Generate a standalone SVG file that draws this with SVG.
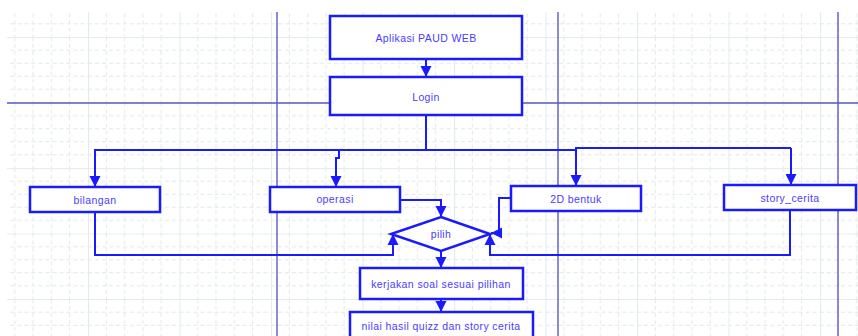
<svg xmlns="http://www.w3.org/2000/svg" width="858" height="336" viewBox="0 0 858 336">
<style>
.box{fill:#ffffff;stroke:#1a1aff;stroke-width:2.5}
.lbl{font-family:"Liberation Sans",Arial,sans-serif;font-size:10.5px;fill:#4a3cff;text-anchor:middle;dominant-baseline:central;letter-spacing:0.4px}
.con{fill:none;stroke:#1a1aff;stroke-width:2}
.lane{stroke:#5a5ac8;stroke-width:1.4;fill:none}
.minor{stroke:#e0e8e8;stroke-width:1;stroke-dasharray:4 3}
.major{stroke:#e2ecec;stroke-width:1.2}
</style>
<defs>
<pattern id="grid" patternUnits="userSpaceOnUse" x="88" y="37" width="91.5" height="65.5">
<path class="minor" d="M18.3,0V65.5M36.6,0V65.5M54.9,0V65.5M73.2,0V65.5M0,13.1H91.5M0,26.2H91.5M0,39.3H91.5M0,52.4H91.5"/>
<path class="major" d="M0.5,0V65.5M0,0.5H91.5"/>
</pattern>
<marker id="arr" viewBox="0 0 10 10" refX="10" refY="5" markerWidth="5.5" markerHeight="6" orient="auto" markerUnits="strokeWidth">
<path d="M0,0L10,5L0,10z" fill="#1a1aff"/>
</marker>
</defs>
<rect x="0" y="0" width="858" height="336" fill="#ffffff"/>
<rect x="7" y="12" width="851" height="324" fill="url(#grid)"/>
<g id="lanes">
<path class="lane" d="M277,12V336M558,12V336M838,12V336M7,103H858"/>
</g>
<g id="connectors">
<path class="con" marker-end="url(#arr)" d="M426,59V77"/>
<path class="con" d="M426,115V150H576V148H791"/>
<path class="con" marker-end="url(#arr)" d="M426,150H95V187"/>
<path class="con" marker-end="url(#arr)" d="M339,150V158H336V187"/>
<path class="con" marker-end="url(#arr)" d="M576,150V186"/>
<path class="con" marker-end="url(#arr)" d="M791,148V185"/>
<path class="con" marker-end="url(#arr)" d="M400,200H441V217"/>
<path class="con" marker-end="url(#arr)" d="M511,198H499V233H491"/>
<path class="con" marker-end="url(#arr)" d="M95,212V255H393V234"/>
<path class="con" marker-end="url(#arr)" d="M790,210V255H490V234"/>
<path class="con" marker-end="url(#arr)" d="M441,251V268"/>
<path class="con" marker-end="url(#arr)" d="M441,299V312"/>
</g>
<g id="n-aplikasi"><rect class="box" x="330" y="16" width="192" height="43"/><text class="lbl" x="426" y="38">Aplikasi PAUD WEB</text></g>
<g id="n-login"><rect class="box" x="330" y="77" width="192" height="38"/><text class="lbl" x="426" y="97">Login</text></g>
<g id="n-bilangan"><rect class="box" x="30" y="187" width="130" height="25"/><text class="lbl" x="95" y="200">bilangan</text></g>
<g id="n-operasi"><rect class="box" x="270" y="187" width="130" height="25"/><text class="lbl" x="335" y="199">operasi</text></g>
<g id="n-2d"><rect class="box" x="511" y="186" width="130" height="25"/><text class="lbl" x="576" y="199">2D bentuk</text></g>
<g id="n-story"><rect class="box" x="724" y="185" width="132" height="25"/><text class="lbl" x="790" y="198">story_cerita</text></g>
<g id="n-pilih"><path class="box" stroke-width="2" d="M441,217L490,234L441,251L391,234z"/><text class="lbl" x="441" y="234">pilih</text></g>
<g id="n-kerjakan"><rect class="box" x="360" y="268" width="163" height="31"/><text class="lbl" x="441" y="284">kerjakan soal sesuai pilihan</text></g>
<g id="n-nilai"><rect class="box" x="350" y="312" width="183" height="30"/><text class="lbl" x="441" y="326">nilai hasil quizz dan story cerita</text></g>
</svg>
